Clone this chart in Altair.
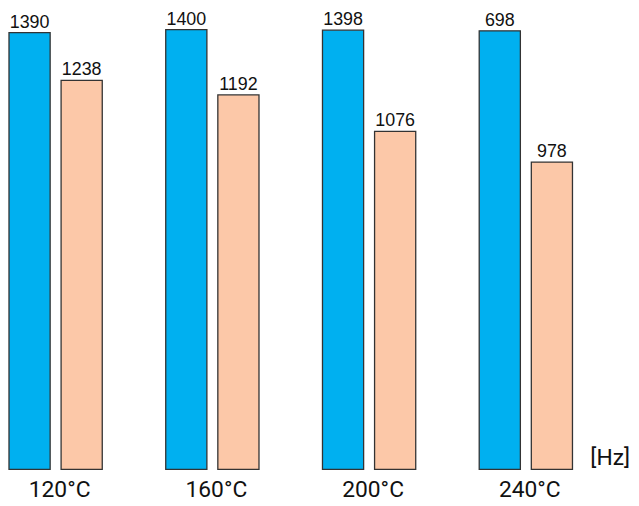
import altair as alt
import pandas as pd

temps = ["120°C", "160°C", "200°C", "240°C"]
blue_vals = [1390, 1400, 1398, 1396]
blue_labels = ["1390", "1400", "1398", "698"]
peach_vals = [1238, 1192, 1076, 978]
peach_labels = ["1238", "1192", "1076", "978"]

rows = []
for t, v, l in zip(temps, blue_vals, blue_labels):
    rows.append({"temp": t, "series": "a", "value": v, "label": l})
for t, v, l in zip(temps, peach_vals, peach_labels):
    rows.append({"temp": t, "series": "b", "value": v, "label": l})
df = pd.DataFrame(rows)

FONT = "Liberation Sans"
LABEL_FONT = "Roboto"

x = alt.X("temp:N", sort=temps,
          scale=alt.Scale(paddingInner=0.405, paddingOuter=0),
          axis=alt.Axis(title=None, labelAngle=0, ticks=False, domain=False,
                        labelFontSize=23, labelFont=LABEL_FONT, labelColor="#111111",
                        labelPadding=9, labelOffset=4))
xo = alt.XOffset("series:N", scale=alt.Scale(paddingInner=0.21, paddingOuter=0))
y = alt.Y("value:Q", scale=alt.Scale(domain=[0, 1456], nice=False, zero=True),
          axis=None)

base = alt.Chart(df).encode(x=x, xOffset=xo, y=y)

bars = base.mark_bar(stroke="#333333", strokeWidth=1.3).encode(
    color=alt.Color("series:N",
                    scale=alt.Scale(domain=["a", "b"], range=["#00B0F0", "#FCC8A8"]),
                    legend=None)
)

labels = base.mark_text(baseline="bottom", dy=-1, fontSize=18, font=FONT,
                        color="#111111").encode(text="label:N")

unit = alt.Chart(pd.DataFrame({"t": ["[Hz]"]})).mark_text(
    fontSize=23, font=LABEL_FONT, color="#111111", align="center", baseline="middle"
).encode(text="t:N", x=alt.value(606), y=alt.value(450))

chart = alt.layer(bars, labels, unit).properties(
    width=568, height=461, padding=0
).configure(font=FONT).configure_view(stroke=None)

chart.save("out.html", embed_options={"renderer": "svg", "actions": False})
